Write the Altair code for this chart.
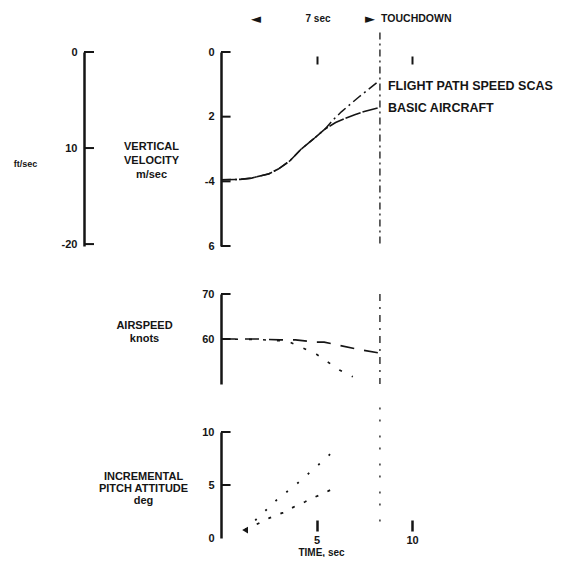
import altair as alt
import pandas as pd

# ---------------- data ----------------
series_names = ["FLIGHT PATH SPEED SCAS", "BASIC AIRCRAFT"]

# vertical velocity, m/sec (common part, then the two branches)
vv_common_t = [0.0, 1.0, 1.6, 2.5, 3.0, 3.6, 4.2, 4.9, 5.45]
vv_common_v = [-3.95, -3.94, -3.90, -3.77, -3.62, -3.37, -3.00, -2.66, -2.38]
vv_fpss_t = [5.9, 6.3, 7.2, 8.2]
vv_fpss_v = [-2.08, -1.85, -1.40, -0.93]
vv_basic_t = [6.0, 6.5, 7.0, 7.5, 8.2]
vv_basic_v = [-2.18, -2.05, -1.94, -1.84, -1.73]

# airspeed, knots
as_fpss_t = [0.0, 1.9, 3.1, 3.9, 5.0, 5.4, 7.3, 8.3]
as_fpss_v = [60.0, 60.0, 59.8, 59.8, 59.3, 59.3, 57.6, 56.9]
as_basic_t = [0.0, 1.9, 3.5, 5.0, 6.2, 6.9]
as_basic_v = [60.0, 59.9, 59.5, 56.6, 53.1, 51.6]

# incremental pitch attitude, deg
pa_fpss_t = [1.26, 2.55, 3.25, 3.94, 4.38, 4.82, 5.38, 5.9]
pa_fpss_v = [0.75, 1.9, 2.4, 3.05, 3.4, 3.8, 4.2, 4.7]
pa_basic_t = [1.26, 2.98, 3.9, 5.6, 5.86]
pa_basic_v = [0.75, 3.7, 5.0, 7.7, 8.2]

touchdown_t = 8.32

# tick values and their printed labels
vv_ticks = [0, -2, -4, -6]
vv_tick_labels = ["0", "2", "-4", "6"]
ft_ticks = [0, -10, -20]
ft_tick_labels = ["0", "10", "-20"]
as_ticks = [70, 60]
as_tick_labels = ["70", "60"]
pa_ticks = [10, 5, 0]
pa_tick_labels = ["10", "5", "0"]
time_ticks = [5, 10]
time_tick_labels = ["5", "10"]

# annotations
arrow_text = ["\u25c4", "\u25ba"]
arrow_t = [1.83, 7.8]
span_text = "7 sec"
span_t = 5.08
header_v = 1.02
touchdown_label = "TOUCHDOWN"
touchdown_label_t = 8.38
legend_t = 8.74
legend_v = [-1.05, -1.73]

# ---------------- styling ----------------
FONT = "Liberation Sans"
INK = "#151515"
W = 200
T_DOMAIN = [0, 10.47]
H_VV, H_AS, H_PA = 194, 90, 106
TICK_LEN = 0.5


def lab_expr(vals, labs):
    expr = "''"
    for v, l in reversed(list(zip(vals, labs))):
        expr = f"datum.value == {v} ? '{l}' : ({expr})"
    return expr


def yaxis(vals, labs, title, tx, ty, lh=13, tsize=11):
    return alt.Axis(values=vals, labelExpr=lab_expr(vals, labs), ticks=False, grid=False,
                    domain=True, domainColor=INK, domainWidth=2.5,
                    labelFont=FONT, labelFontSize=11, labelFontWeight="bold",
                    labelColor=INK, labelPadding=7,
                    title=title, titleAngle=0, titleX=tx, titleY=ty,
                    titleAlign="center", titleBaseline="middle",
                    titleFont=FONT, titleFontSize=tsize, titleFontWeight="bold",
                    titleColor=INK, titleLineHeight=lh)


tscale = alt.Scale(domain=T_DOMAIN, nice=False, zero=False)


def line_df(ts, vs):
    return pd.DataFrame({"i": list(range(len(ts))), "t": ts, "v": vs})


# ---------------- ft/sec axis panel ----------------
ft_df = pd.DataFrame({"x": [0] * len(ft_ticks), "x2": [1] * len(ft_ticks), "v": ft_ticks})
ft_panel = alt.Chart(ft_df).mark_rule(color=INK, strokeWidth=2).encode(
    x=alt.X("x:Q", scale=alt.Scale(domain=[0, 1]), axis=None),
    x2="x2:Q",
    y=alt.Y("v:Q", scale=alt.Scale(domain=[-20.2, 0], nice=False, zero=False),
            axis=yaxis(ft_ticks, ft_tick_labels, "ft/sec", -59, 111, tsize=9)),
).properties(width=10, height=H_VV)

# ---------------- vertical velocity panel ----------------
vv_xaxis = alt.Axis(orient="top", values=time_ticks, labels=False, domain=False, grid=False,
                    ticks=True, tickSize=8, tickWidth=2, tickColor=INK, offset=-12, title=None)


def vvX():
    return alt.X("t:Q", scale=tscale, axis=vv_xaxis)


def vvY():
    return alt.Y("v:Q", scale=alt.Scale(domain=[-6, 0], nice=False, zero=False),
                 axis=yaxis(vv_ticks, vv_tick_labels, ["VERTICAL", "VELOCITY", "m/sec"], -70, 94, 14))


vv_fpss_line = alt.Chart(line_df(vv_common_t + vv_fpss_t, vv_common_v + vv_fpss_v)).mark_line(
    color=INK, strokeWidth=1.5, strokeDash=[10, 4, 2, 4]).encode(x=vvX(), y=vvY(), order="i:Q")
vv_basic_line = alt.Chart(line_df(vv_common_t + vv_basic_t, vv_common_v + vv_basic_v)).mark_line(
    color=INK, strokeWidth=1.6, strokeDash=[16, 2]).encode(x=vvX(), y=vvY(), order="i:Q")
vv_tick_df = pd.DataFrame({"t": [0] * len(vv_ticks), "t2": [TICK_LEN] * len(vv_ticks), "v": vv_ticks})
vv_tickmarks = alt.Chart(vv_tick_df).mark_rule(color=INK, strokeWidth=2).encode(x=vvX(), x2="t2:Q", y=vvY())
vv_td = alt.Chart(pd.DataFrame({"t": [touchdown_t], "v": [0.6], "v2": [-6]})).mark_rule(
    color=INK, strokeWidth=1.3, strokeDash=[7, 4, 2, 4]).encode(x=vvX(), y=vvY(), y2="v2:Q")
vv_arrows = alt.Chart(pd.DataFrame({"t": arrow_t, "v": [header_v] * 2, "label": arrow_text})).mark_text(
    font="DejaVu Sans", fontSize=13, color=INK, align="center", baseline="middle").encode(
    x=vvX(), y=vvY(), text="label:N")
vv_span = alt.Chart(pd.DataFrame({"t": [span_t], "v": [header_v], "label": [span_text]})).mark_text(
    font=FONT, fontSize=10, fontWeight="bold", color=INK, align="center", baseline="middle").encode(
    x=vvX(), y=vvY(), text="label:N")
vv_td_label = alt.Chart(pd.DataFrame({"t": [touchdown_label_t], "v": [header_v], "label": [touchdown_label]})).mark_text(
    font=FONT, fontSize=10.5, fontWeight="bold", color=INK, align="left", baseline="middle").encode(
    x=vvX(), y=vvY(), text="label:N")
vv_legend = alt.Chart(pd.DataFrame({"t": [legend_t] * 2, "v": legend_v, "label": series_names})).mark_text(
    font=FONT, fontSize=12.5, fontWeight="bold", color=INK, align="left", baseline="middle").encode(
    x=vvX(), y=vvY(), text="label:N")
vv_panel = alt.layer(vv_fpss_line, vv_basic_line, vv_tickmarks, vv_td, vv_arrows, vv_span,
                     vv_td_label, vv_legend).properties(width=W, height=H_VV)

# ---------------- airspeed panel ----------------


def asX():
    return alt.X("t:Q", scale=tscale, axis=None)


def asY():
    return alt.Y("v:Q", scale=alt.Scale(domain=[50, 70], nice=False, zero=False),
                 axis=yaxis(as_ticks, as_tick_labels, ["AIRSPEED", "knots"], -77, 31, 13))


as_fpss_line = alt.Chart(line_df(as_fpss_t, as_fpss_v)).mark_line(
    color=INK, strokeWidth=1.6, strokeDash=[14, 10]).encode(x=asX(), y=asY(), order="i:Q")
as_basic_line = alt.Chart(line_df(as_basic_t, as_basic_v)).mark_line(
    color=INK, strokeWidth=1.6, strokeDash=[3, 11]).encode(x=asX(), y=asY(), order="i:Q")
as_tick_df = pd.DataFrame({"t": [0] * len(as_ticks), "t2": [TICK_LEN] * len(as_ticks), "v": as_ticks})
as_tickmarks = alt.Chart(as_tick_df).mark_rule(color=INK, strokeWidth=2).encode(x=asX(), x2="t2:Q", y=asY())
as_td = alt.Chart(pd.DataFrame({"t": [touchdown_t], "v": [70], "v2": [50]})).mark_rule(
    color=INK, strokeWidth=1.3, strokeDash=[7, 6, 2, 6]).encode(x=asX(), y=asY(), y2="v2:Q")
as_panel = alt.layer(as_fpss_line, as_basic_line, as_tickmarks, as_td).properties(width=W, height=H_AS)

# ---------------- pitch attitude panel ----------------
pa_xaxis = alt.Axis(values=time_ticks, labelExpr=lab_expr(time_ticks, time_tick_labels),
                    domain=False, grid=False, ticks=True, tickSize=11, tickWidth=2.5, tickColor=INK,
                    offset=-18, labelPadding=3, labelFlush=False,
                    labelFont=FONT, labelFontSize=11, labelFontWeight="bold", labelColor=INK,
                    title="TIME, sec", titlePadding=2, titleFont=FONT, titleFontSize=10,
                    titleFontWeight="bold", titleColor=INK)


def paX():
    return alt.X("t:Q", scale=tscale, axis=pa_xaxis)


def paY():
    return alt.Y("v:Q", scale=alt.Scale(domain=[0, 10], nice=False, zero=False),
                 axis=yaxis(pa_ticks, pa_tick_labels, ["INCREMENTAL", "PITCH ATTITUDE", "deg"], -78, 44, 12))


pa_fpss_line = alt.Chart(line_df(pa_fpss_t, pa_fpss_v)).mark_line(
    color=INK, strokeWidth=1.8, strokeDash=[3, 10]).encode(x=paX(), y=paY(), order="i:Q")
pa_basic_line = alt.Chart(line_df(pa_basic_t, pa_basic_v)).mark_line(
    color=INK, strokeWidth=1.8, strokeDash=[2, 12]).encode(x=paX(), y=paY(), order="i:Q")
pa_start = alt.Chart(line_df(pa_fpss_t[:1], pa_fpss_v[:1])).mark_point(
    shape="triangle-left", filled=True, color=INK, size=45, opacity=1).encode(x=paX(), y=paY())
pa_tick_df = pd.DataFrame({"t": [0] * 2, "t2": [TICK_LEN] * 2, "v": pa_ticks[:2]})
pa_tickmarks = alt.Chart(pa_tick_df).mark_rule(color=INK, strokeWidth=2).encode(x=paX(), x2="t2:Q", y=paY())
pa_td = alt.Chart(pd.DataFrame({"t": [touchdown_t], "v": [12.3], "v2": [0.7]})).mark_rule(
    color=INK, strokeWidth=1.3, strokeDash=[2, 10, 2, 14]).encode(x=paX(), y=paY(), y2="v2:Q")
pa_panel = alt.layer(pa_fpss_line, pa_basic_line, pa_start, pa_tickmarks, pa_td).properties(width=W, height=H_PA)


# ---------------- empty left cells ----------------
def blank(h):
    return alt.Chart(pd.DataFrame({"t": [0]})).mark_point(opacity=0).encode(
        x=alt.X("t:Q", axis=None), y=alt.Y("t:Q", axis=None)).properties(width=10, height=h)


chart = alt.concat(
    ft_panel, vv_panel, blank(H_AS), as_panel, blank(H_PA), pa_panel,
    columns=2, spacing={"row": 48, "column": 127}, bounds="flush",
).properties(
    padding={"left": 5, "top": 5, "right": 2, "bottom": 0}
).configure_view(stroke=None)

chart.save("out.html", embed_options={"renderer": "svg", "actions": False})
